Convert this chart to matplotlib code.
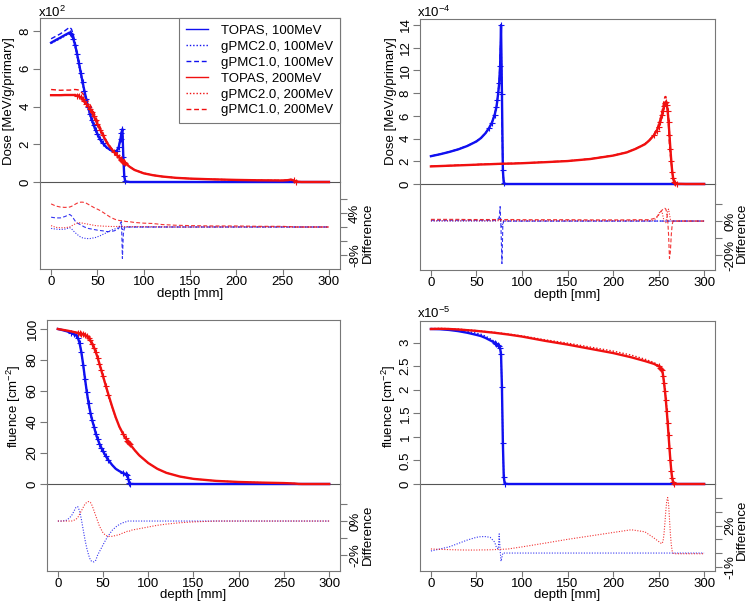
import numpy as np
import matplotlib
matplotlib.use('Agg')
import matplotlib.pyplot as plt
from matplotlib.lines import Line2D

plt.rcParams['font.family'] = ['Liberation Sans', 'DejaVu Sans']
plt.rcParams['mathtext.default'] = 'regular'
plt.rcParams['axes.unicode_minus'] = False

# ---------------- data: top-left (Dose, x10^2) ----------------
depth_tl = [0, 5, 10, 15, 20, 22, 24, 26, 28, 30, 32, 34, 36, 38, 40, 42, 44, 46, 48, 50,
            53, 56, 60, 64, 68, 71, 73, 75, 76, 77, 78, 79, 80, 85, 90, 100, 110, 120, 135, 150,
            175, 200, 225, 250, 256, 259, 262, 265, 270, 285, 300]
dose100_topas = [7.38, 7.52, 7.65, 7.79, 7.92, 7.85, 7.60, 7.25, 6.80, 6.30, 5.80, 5.30, 4.82, 4.38, 3.98,
                 3.62, 3.30, 3.02, 2.77, 2.55, 2.27, 2.05, 1.83, 1.70, 1.62, 1.65, 1.85, 2.30, 2.60, 2.80,
                 1.30, 0.30, 0.03, 0, 0, 0, 0, 0, 0, 0, 0, 0, 0, 0, 0, 0, 0, 0, 0, 0, 0]
dose100_gpmc2 = [7.35, 7.47, 7.60, 7.74, 7.90, 7.81, 7.52, 7.13, 6.66, 6.14, 5.63, 5.14, 4.67, 4.24, 3.85,
                 3.50, 3.19, 2.93, 2.69, 2.48, 2.21, 2.01, 1.80, 1.68, 1.61, 1.64, 1.85, 2.30, 2.62, 2.77,
                 1.30, 0.30, 0.03, 0, 0, 0, 0, 0, 0, 0, 0, 0, 0, 0, 0, 0, 0, 0, 0, 0, 0]
dose100_gpmc1 = [7.59, 7.72, 7.85, 8.02, 8.20, 8.10, 7.79, 7.37, 6.88, 6.36, 5.83, 5.32, 4.82, 4.37, 3.96,
                 3.60, 3.28, 3.00, 2.75, 2.53, 2.25, 2.03, 1.81, 1.68, 1.60, 1.64, 1.84, 2.33, 2.64, 2.55,
                 1.27, 0.30, 0.03, 0, 0, 0, 0, 0, 0, 0, 0, 0, 0, 0, 0, 0, 0, 0, 0, 0, 0]
dose200_topas = [4.60, 4.60, 4.60, 4.61, 4.61, 4.61, 4.61, 4.60, 4.58, 4.55, 4.48, 4.38, 4.27, 4.15, 4.02,
                 3.86, 3.69, 3.50, 3.29, 3.08, 2.78, 2.48, 2.10, 1.82, 1.58, 1.42, 1.32, 1.22, 1.17, 1.12,
                 1.08, 1.04, 1.00, 0.80, 0.64, 0.46, 0.36, 0.29, 0.22, 0.18, 0.14, 0.11, 0.09, 0.08, 0.10,
                 0.13, 0.08, 0.02, 0, 0, 0]
dose200_gpmc2 = [4.62, 4.60, 4.59, 4.60, 4.61, 4.62, 4.64, 4.64, 4.63, 4.60, 4.53, 4.43, 4.31, 4.19, 4.05,
                 3.89, 3.71, 3.52, 3.30, 3.09, 2.79, 2.49, 2.10, 1.82, 1.58, 1.42, 1.32, 1.22, 1.17, 1.12,
                 1.08, 1.04, 1.00, 0.80, 0.64, 0.46, 0.36, 0.29, 0.22, 0.18, 0.14, 0.11, 0.09, 0.08, 0.10,
                 0.13, 0.08, 0.02, 0, 0, 0]
dose200_gpmc1 = [4.90, 4.88, 4.86, 4.87, 4.87, 4.88, 4.90, 4.90, 4.89, 4.87, 4.80, 4.69, 4.57, 4.43, 4.28,
                 4.10, 3.91, 3.70, 3.46, 3.24, 2.91, 2.58, 2.17, 1.87, 1.62, 1.45, 1.35, 1.24, 1.19, 1.14,
                 1.10, 1.06, 1.02, 0.81, 0.65, 0.47, 0.36, 0.29, 0.22, 0.18, 0.14, 0.11, 0.09, 0.08, 0.10,
                 0.13, 0.08, 0.02, 0, 0, 0]
diff100_gpmc2_tl = [-0.4, -0.6, -0.7, -0.6, -0.2, -0.5, -1.1, -1.6, -2.1, -2.5, -2.9, -3.1, -3.2, -3.3, -3.3,
                    -3.3, -3.2, -3.1, -3.0, -2.8, -2.5, -2.1, -1.6, -1.0, -0.6, -0.4, -0.2, 0.2, 0.8, -1.0,
                    -0.3, 0, 0, 0, 0, 0, 0, 0, 0, 0, 0, 0, 0, 0, 0, 0, 0, 0, 0, 0, 0]
diff100_gpmc1_tl = [2.8, 2.6, 2.6, 3.0, 3.6, 3.2, 2.5, 1.7, 1.2, 0.9, 0.6, 0.3, 0.0, -0.2, -0.4,
                    -0.5, -0.6, -0.7, -0.8, -0.9, -1.0, -1.1, -1.3, -1.3, -1.1, -0.8, -0.4, 1.2, 1.5, -9.0,
                    -2.0, -0.5, 0, 0, 0, 0, 0, 0, 0, 0, 0, 0, 0, 0, 0, 0, 0, 0, 0, 0, 0]
diff200_gpmc2_tl = [0.4, -0.1, -0.2, -0.2, 0.0, 0.3, 0.6, 0.9, 1.1, 1.2, 1.2, 1.1, 1.0, 0.9, 0.8,
                    0.7, 0.6, 0.5, 0.4, 0.35, 0.3, 0.25, 0.2, 0.15, 0.15, 0.15, 0.15, 0.15, 0.15, 0.15,
                    0.1, 0.1, 0.1, 0.1, 0.1, 0.1, 0.05, 0.05, 0, 0, 0, 0, 0, 0, 0, 0, 0, 0, 0, 0, 0]
diff200_gpmc1_tl = [6.6, 6.0, 5.7, 5.6, 5.7, 5.9, 6.2, 6.5, 6.8, 7.0, 7.1, 7.1, 7.0, 6.8, 6.5,
                    6.2, 5.9, 5.6, 5.3, 5.1, 4.7, 4.2, 3.5, 2.8, 2.3, 2.0, 1.9, 1.8, 1.8, 1.7,
                    1.7, 1.7, 1.6, 1.5, 1.3, 1.1, 1.0, 0.7, 0.5, 0.4, 0.3, 0.3, 0.2, 0.2, 0.1,
                    0.1, 0.0, 0, 0, 0, 0]

# ---------------- data: top-right (Dose, x10^-4) ----------------
depth_tr = [0, 10, 20, 30, 40, 50, 55, 60, 64, 67, 70, 72, 73, 74, 75, 76, 77, 78, 79, 80, 82,
            90, 100, 125, 150, 175, 200, 215, 225, 235, 240, 245, 248, 250, 252, 254, 255, 256, 257, 258,
            259, 260, 261, 262, 263, 264, 265, 266, 267, 268, 270, 280, 290, 300]
Z33 = [0] * 33
dose100b_topas = [2.45, 2.62, 2.82, 3.05, 3.35, 3.75, 4.05, 4.48, 4.95, 5.40, 6.10, 6.80, 7.40, 8.10, 8.90,
                  10.40, 14.00, 7.90, 1.20, 0.10, 0] + Z33
dose100b_gpmc2 = [2.45, 2.62, 2.82, 3.05, 3.35, 3.75, 4.05, 4.48, 4.95, 5.40, 6.10, 6.80, 7.44, 8.15, 9.03,
                  10.66, 13.72, 7.58, 1.19, 0.10, 0] + Z33
dose100b_gpmc1 = [2.46, 2.63, 2.83, 3.07, 3.37, 3.77, 4.07, 4.50, 4.97, 5.43, 6.13, 6.84, 7.46, 8.22, 9.08,
                  11.28, 13.30, 5.93, 1.18, 0.10, 0] + Z33
dose200b_topas = [1.55, 1.58, 1.61, 1.64, 1.67, 1.70, 1.72, 1.73, 1.74, 1.75, 1.76, 1.765, 1.77, 1.772, 1.775,
                  1.777, 1.78, 1.782, 1.785, 1.787, 1.79, 1.80, 1.83, 1.92, 2.02, 2.20, 2.50, 2.78, 3.10, 3.50,
                  3.85, 4.30, 4.70, 5.05, 5.50, 6.10, 6.45, 6.85, 7.15, 7.20, 7.00, 6.40, 5.50, 4.30, 3.10,
                  2.00, 1.10, 0.50, 0.20, 0.08, 0.02, 0, 0, 0]
dose200b_gpmc2 = [1.553, 1.583, 1.613, 1.643, 1.673, 1.703, 1.723, 1.733, 1.743, 1.754, 1.764, 1.769, 1.774,
                  1.776, 1.779, 1.781, 1.784, 1.786, 1.789, 1.791, 1.794, 1.804, 1.834, 1.924, 2.024, 2.204,
                  2.505, 2.786, 3.106, 3.507, 3.858, 4.32, 4.79, 5.25, 5.83, 6.41, 6.61, 6.85, 7.10, 7.13,
                  7.14, 6.78, 5.89, 4.47, 3.13, 2.00, 1.10, 0.50, 0.20, 0.08, 0.02, 0, 0, 0]
dose200b_gpmc1 = [1.566, 1.596, 1.626, 1.656, 1.685, 1.715, 1.735, 1.746, 1.756, 1.766, 1.776, 1.781, 1.786,
                  1.788, 1.791, 1.793, 1.796, 1.798, 1.801, 1.803, 1.806, 1.816, 1.845, 1.935, 2.036, 2.215,
                  2.518, 2.799, 3.125, 3.528, 3.881, 4.365, 4.818, 5.227, 5.775, 6.497, 6.902, 7.364, 7.686,
                  7.704, 7.35, 6.464, 5.06, 3.354, 2.542, 1.84, 1.078, 0.50, 0.20, 0.08, 0.02, 0, 0, 0]
diff100_gpmc2_tr = [0] * 11 + [0.2, 0.5, 0.8, 1.5, 2.5, -2.0, -4.0, -1.0, 0, 0] + Z33
diff100_gpmc1_tr = [0.5] * 11 + [0.6, 0.8, 1.5, 2.0, 8.5, -5.0, -25.0, -2.0, 0, 0] + Z33
diff200_gpmc2_tr = [0.2] * 31 + [0.5, 2.0, 4.0, 6.0, 5.0, 2.5, 0, -0.7, -1.0, 2.0, 6.0, 7.0, 4.0, 1.0, 0,
                                 0, 0, 0, 0, 0, 0, 0, 0]
diff200_gpmc1_tr = [1.0, 1.0, 1.0, 1.0, 0.9, 0.9, 0.9, 0.9, 0.9, 0.9, 0.9, 0.9, 0.9, 0.9, 0.9, 0.9, 0.9, 0.9,
                    0.9, 0.9, 0.9, 0.9, 0.8, 0.8, 0.8, 0.7, 0.7, 0.7, 0.8, 0.8, 0.8, 1.5, 2.5, 3.5, 5.0, 6.5,
                    7.0, 7.5, 7.5, 7.0, 5.0, 1.0, -8.0, -22.0, -18.0, -8.0, -2.0, 0, 0, 0, 0, 0, 0, 0]

# ---------------- data: bottom-left (fluence) ----------------
depth_bl = [0, 5, 10, 15, 18, 20, 22, 24, 26, 28, 30, 32, 34, 36, 38, 40, 42, 44, 46, 48,
            50, 53, 56, 60, 64, 68, 72, 75, 77, 78, 79, 80, 85, 90, 100, 110, 120, 135, 150, 175,
            200, 225, 250, 262, 266, 270, 285, 300]
Z16 = [0] * 16
flu100_topas = [100, 99.3, 98.5, 97.5, 96.8, 96.0, 94.5, 91.0, 85.0, 77.0, 68.0, 59.5, 52.0, 46.0, 41.0,
                37.0, 32.5, 29.0, 26.0, 23.5, 21.2, 18.0, 15.3, 12.3, 9.8, 8.3, 7.1, 6.4, 5.6, 3.0,
                0.8, 0.1] + Z16
flu100_gpmc2 = [100, 99.3, 98.55, 97.8, 97.4, 96.8, 95.3, 91.5, 85.1, 76.6, 67.3, 58.5, 51.0, 44.9, 40.0,
                36.1, 31.8, 28.4, 25.5, 23.1, 20.9, 17.8, 15.2, 12.2, 9.8, 8.3, 7.1, 6.4, 5.6, 3.0,
                0.8, 0.1] + Z16
flu200_topas = [100, 99.5, 99.0, 98.4, 98.0, 97.8, 97.5, 97.2, 96.9, 96.5, 96.0, 95.3, 94.2, 92.6, 90.5,
                88.0, 85.0, 81.5, 77.5, 73.5, 69.5, 63.5, 57.5, 50.0, 43.0, 37.0, 32.5, 29.5, 27.8, 27.0,
                26.2, 25.5, 21.8, 18.5, 13.5, 9.8, 7.2, 4.8, 3.3, 2.0, 1.3, 0.9, 0.6, 0.3, 0.05, 0, 0, 0]
flu200_gpmc2 = [100, 99.5, 99.0, 98.4, 98.0, 97.9, 97.7, 97.6, 97.5, 97.3, 97.0, 96.3, 95.3, 93.6, 91.3,
                88.5, 85.3, 81.5, 77.3, 73.1, 69.0, 63.0, 57.0, 49.6, 42.6, 36.7, 32.3, 29.3, 27.6, 26.8,
                26.0, 25.4, 21.7, 18.4, 13.45, 9.78, 7.19, 4.8, 3.3, 2.0, 1.3, 0.9, 0.6, 0.3, 0.05, 0, 0, 0]
diff100_flu_bl = [0, 0, 0.05, 0.3, 0.6, 0.8, 0.85, 0.6, 0.1, -0.5, -1.1, -1.6, -2.0, -2.3, -2.4,
                  -2.4, -2.3, -2.0, -1.8, -1.6, -1.4, -1.1, -0.85, -0.55, -0.35, -0.2, -0.1, -0.05, 0, 0,
                  0, 0] + Z16
diff200_flu_bl = [0, 0, 0, 0, 0.05, 0.1, 0.2, 0.4, 0.6, 0.8, 1.0, 1.1, 1.15, 1.1, 0.9, 0.6, 0.3, 0.0,
                  -0.3, -0.5, -0.7, -0.85, -0.9, -0.9, -0.85, -0.8, -0.7, -0.65, -0.6, -0.6, -0.6, -0.55,
                  -0.5, -0.45, -0.35, -0.25, -0.18, -0.1, -0.05, 0, 0, 0, 0, 0, 0, 0, 0, 0]

# ---------------- data: bottom-right (fluence, x10^-5) ----------------
depth_br = [0, 10, 20, 30, 40, 50, 55, 60, 65, 70, 72, 74, 75, 76, 77, 78, 79, 80, 81, 85, 100,
            125, 150, 175, 200, 220, 235, 245, 250, 252, 253, 254, 255, 256, 257, 258, 259, 260, 261,
            262, 263, 264, 265, 266, 267, 270, 285, 300]
Z27 = [0] * 27
flu100b_topas = [3.29, 3.285, 3.27, 3.245, 3.21, 3.165, 3.14, 3.10, 3.05, 3.00, 2.97, 2.94, 2.92, 2.88,
                 2.75, 2.05, 0.88, 0.15, 0.01, 0, 0] + Z27
flu100b_gpmc2 = [3.295, 3.295, 3.285, 3.268, 3.24, 3.201, 3.178, 3.137, 3.085, 3.024, 2.982, 2.949, 2.961,
                 2.886, 2.734, 2.044, 0.88, 0.15, 0.01, 0, 0] + Z27
flu200b_topas = [3.29, 3.295, 3.29, 3.28, 3.265, 3.25, 3.24, 3.23, 3.22, 3.21, 3.205, 3.20, 3.198, 3.195,
                 3.193, 3.19, 3.188, 3.185, 3.183, 3.173, 3.13, 3.04, 2.96, 2.87, 2.78, 2.69, 2.61, 2.55,
                 2.50, 2.47, 2.44, 2.42, 2.30, 2.15, 1.98, 1.78, 1.55, 1.30, 1.03, 0.76, 0.50, 0.28, 0.12,
                 0.04, 0.01, 0, 0, 0]
flu200b_gpmc2 = [3.30, 3.304, 3.298, 3.288, 3.272, 3.257, 3.247, 3.237, 3.228, 3.218, 3.213, 3.208, 3.207,
                 3.204, 3.202, 3.199, 3.197, 3.194, 3.192, 3.183, 3.144, 3.062, 2.99, 2.906, 2.822, 2.736,
                 2.65, 2.578, 2.521, 2.489, 2.457, 2.437, 2.321, 2.18, 2.024, 1.835, 1.609, 1.353, 1.067,
                 0.779, 0.507, 0.282, 0.12, 0.04, 0.01, 0, 0, 0]
diff100_flu_br = [0.15, 0.3, 0.45, 0.7, 0.95, 1.15, 1.2, 1.2, 1.15, 0.8, 0.4, 0.3, 1.4, 0.2, -0.6, -0.3,
                  0, 0, 0, 0, 0] + Z27
diff200_flu_br = [0.3, 0.27, 0.25, 0.23, 0.22, 0.22, 0.23, 0.23, 0.24, 0.25, 0.26, 0.26, 0.27, 0.27, 0.27,
                  0.28, 0.28, 0.28, 0.28, 0.3, 0.45, 0.72, 1.0, 1.25, 1.5, 1.7, 1.55, 1.1, 0.85, 0.75, 0.7,
                  0.7, 0.9, 1.4, 2.2, 3.1, 3.8, 4.05, 3.6, 2.5, 1.4, 0.6, 0.15, 0, -0.05, -0.05, -0.05, -0.05]

legend_labels = ['TOPAS, 100MeV', 'gPMC2.0, 100MeV', 'gPMC1.0, 100MeV',
                 'TOPAS, 200MeV', 'gPMC2.0, 200MeV', 'gPMC1.0, 200MeV']

# ---------------- drawing ----------------
W, H = 750, 606
FS = 9.5
FRAME = '#777777'
BLUE = '#1010f0'
RED = '#f01010'
DOT = (0, (1.0, 1.4))
DASH = (0, (3.5, 2.0))

fig = plt.figure(figsize=(W / 100, H / 100), dpi=100)


def rect(l, r, t, b):
    return [l / W, 1 - b / H, (r - l) / W, (b - t) / H]


def marker_idx(d, v, px_per_mm, px_per_unit):
    d = np.asarray(d, float)
    v = np.asarray(v, float)
    slope = np.abs(np.gradient(v, d)) * px_per_unit / px_per_mm
    gap = np.diff(d) <= 3
    dense = np.r_[gap, False] | np.r_[False, gap]
    return list(np.where(dense & (v > 0) & (slope > 0.25))[0])


def panel(frame, zero_y, top_ylim, yticks, yticklabels, diff_ylim, dticks, dlabels,
          depth, tops, diffs, ylabel, ylabel_xy, diff_label_xy, xlabel_y, exp_text=None, exp_xy=None):
    l, r, t, b = frame
    at = fig.add_axes(rect(l, r, t, zero_y))
    ab = fig.add_axes(rect(l, r, zero_y, b))
    for ax in (at, ab):
        ax.set_xlim(-12, 312)
        ax.set_facecolor('none')
        for s in ax.spines.values():
            s.set_color(FRAME)
            s.set_linewidth(0.8)
    at.spines['bottom'].set_color('#555555')
    ab.spines['top'].set_visible(False)
    at.set_ylim(*top_ylim)
    ab.set_ylim(*diff_ylim)

    px_mm = (r - l) / 324.0
    px_unit = (zero_y - t) / (top_ylim[1] - top_ylim[0])
    for vals, color, kind in tops:
        if kind == 'topas':
            at.plot(depth, vals, color=color, lw=1.7, ls='-', marker='+', ms=4.5, mew=0.8,
                    markevery=marker_idx(depth, vals, px_mm, px_unit), clip_on=False, zorder=3)
        elif kind == 'g2':
            at.plot(depth, vals, color=color, lw=1.0, ls=DOT, clip_on=False, zorder=2)
        else:
            at.plot(depth, vals, color=color, lw=1.0, ls=DASH, clip_on=False, zorder=2)
    for vals, color, kind in diffs:
        ls = DOT if kind == 'g2' else DASH
        ab.plot(depth, vals, color=color, lw=0.8, ls=ls, alpha=0.85)

    at.set_yticks(yticks)
    at.set_yticklabels(yticklabels)
    at.tick_params(axis='y', left=True, length=5, width=0.8, color=FRAME, labelsize=FS, pad=1.0)
    for lab in at.get_yticklabels():
        lab.set_rotation(90)
        lab.set_va('center')
        lab.set_ha('right')
    at.tick_params(axis='x', bottom=False, labelbottom=False)

    ab.set_yticks(dticks)
    ab.set_yticklabels(dlabels)
    ab.tick_params(axis='y', left=False, labelleft=False, right=True, labelright=True,
                   length=5, width=0.8, color=FRAME, labelsize=FS, pad=1.5)
    for lab in ab.get_yticklabels():
        lab.set_rotation(90)
        lab.set_va('center')
        lab.set_ha('left')
    ab.set_xticks([0, 50, 100, 150, 200, 250, 300])
    ab.tick_params(axis='x', length=4, width=0.8, color=FRAME, labelsize=FS, pad=1.0)

    fig.text(ylabel_xy[0] / W, 1 - ylabel_xy[1] / H, ylabel, rotation=90, ha='center', va='center',
             fontsize=FS)
    fig.text(diff_label_xy[0] / W, 1 - diff_label_xy[1] / H, 'Difference', rotation=90, ha='center',
             va='center', fontsize=FS)
    fig.text(((l + r) / 2) / W, 1 - xlabel_y / H, 'depth [mm]', ha='center', va='center', fontsize=FS)
    if exp_text:
        fig.text(exp_xy[0] / W, 1 - exp_xy[1] / H, exp_text, ha='left', va='baseline', fontsize=FS)
    return at, ab


# top-left
at_tl, _ = panel((40, 340, 18, 269), 182, (0, 8.69), [0, 2, 4, 6, 8], ['0', '2', '4', '6', '8'],
                 (-12.0, 12.86), [8, 4, 0, -4, -8], ['', '4%', '', '', '-8%'],
                 depth_tl,
                 [(dose100_topas, BLUE, 'topas'), (dose100_gpmc2, BLUE, 'g2'), (dose100_gpmc1, BLUE, 'g1'),
                  (dose200_topas, RED, 'topas'), (dose200_gpmc2, RED, 'g2'), (dose200_gpmc1, RED, 'g1')],
                 [(diff100_gpmc2_tl, BLUE, 'g2'), (diff100_gpmc1_tl, BLUE, 'g1'),
                  (diff200_gpmc2_tl, RED, 'g2'), (diff200_gpmc1_tl, RED, 'g1')],
                 'Dose [MeV/g/primary]', (9, 101), (368, 233), 294,
                 r'x10$^{2}$', (38, 17))

handles = [Line2D([], [], color=BLUE, lw=1.0, ls='-'), Line2D([], [], color=BLUE, lw=1.0, ls=DOT),
           Line2D([], [], color=BLUE, lw=1.0, ls=DASH), Line2D([], [], color=RED, lw=1.0, ls='-'),
           Line2D([], [], color=RED, lw=1.0, ls=DOT), Line2D([], [], color=RED, lw=1.0, ls=DASH)]
leg = at_tl.legend(handles, legend_labels, loc='upper right', bbox_to_anchor=(1, 1), borderaxespad=0,
                   fontsize=FS, frameon=True, fancybox=False, edgecolor=FRAME, framealpha=1,
                   handlelength=1.7, handletextpad=1.0, labelspacing=0.28, borderpad=0.5)
leg.get_frame().set_linewidth(0.8)

# top-right
panel((420, 715, 19, 270), 184, (0, 14.53), [0, 2, 4, 6, 8, 10, 12, 14],
      ['0', '2', '4', '6', '8', '10', '12', '14'],
      (-28.8, 21.8), [10, 0, -10, -20], ['', '0%', '', '-20%'],
      depth_tr,
      [(dose100b_topas, BLUE, 'topas'), (dose100b_gpmc2, BLUE, 'g2'), (dose100b_gpmc1, BLUE, 'g1'),
       (dose200b_topas, RED, 'topas'), (dose200b_gpmc2, RED, 'g2'), (dose200b_gpmc1, RED, 'g1')],
      [(diff100_gpmc2_tr, BLUE, 'g2'), (diff100_gpmc1_tr, BLUE, 'g1'),
       (diff200_gpmc2_tr, RED, 'g2'), (diff200_gpmc1_tr, RED, 'g1')],
      'Dose [MeV/g/primary]', (391, 101), (742, 233), 295,
      r'x10$^{-4}$', (417, 17))

# bottom-left
panel((47, 340, 320, 571), 484, (0, 105.8), [0, 20, 40, 60, 80, 100], ['0', '20', '40', '60', '80', '100'],
      (-2.94, 2.18), [1, 0, -1, -2], ['', '0%', '', '-2%'],
      depth_bl,
      [(flu100_topas, BLUE, 'topas'), (flu100_gpmc2, BLUE, 'g2'),
       (flu200_topas, RED, 'topas'), (flu200_gpmc2, RED, 'g2')],
      [(diff100_flu_bl, BLUE, 'g2'), (diff200_flu_bl, RED, 'g2')],
      r'fluence [cm$^{-2}$]', (14, 406), (368, 535), 595)

# bottom-right
panel((420, 715, 321, 571), 484, (0, 3.46), [0, 0.5, 1, 1.5, 2, 2.5, 3],
      ['0', '0.5', '1', '1.5', '2', '2.5', '3'],
      (-1.31, 5.04), [4, 3, 2, 1, 0, -1], ['', '', '2%', '', '', '-1%'],
      depth_br,
      [(flu100b_topas, BLUE, 'topas'), (flu100b_gpmc2, BLUE, 'g2'),
       (flu200b_topas, RED, 'topas'), (flu200b_gpmc2, RED, 'g2')],
      [(diff100_flu_br, BLUE, 'g2'), (diff200_flu_br, RED, 'g2')],
      r'fluence [cm$^{-2}$]', (389, 406), (742, 530), 595,
      r'x10$^{-5}$', (417, 318))

fig.savefig('out.png', dpi=100)
